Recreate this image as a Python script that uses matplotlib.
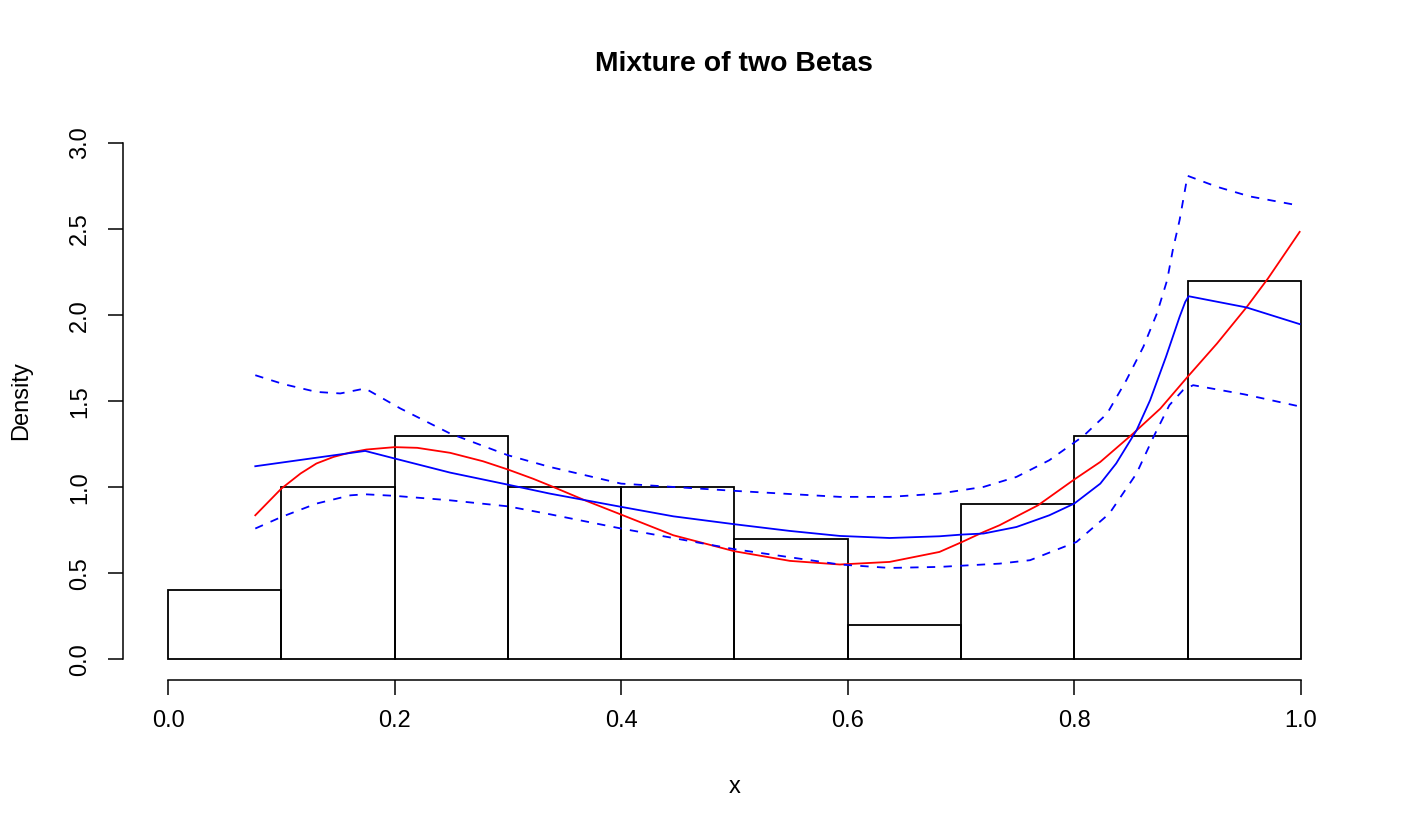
import matplotlib
matplotlib.use("Agg")
import matplotlib.pyplot as plt

plt.rcParams["font.family"] = ["Liberation Sans", "DejaVu Sans"]
plt.rcParams["lines.scale_dashes"] = False

# histogram (density) of the sample
bin_edges = [0.0, 0.1, 0.2, 0.3, 0.4, 0.5, 0.6, 0.7, 0.8, 0.9]
bin_density = [0.4, 1.0, 1.3, 1.0, 1.0, 0.7, 0.2, 0.9, 1.3, 2.2]
bin_width = 0.1

# true mixture density (red)
true_x = [0.077, 0.100, 0.117, 0.131, 0.146, 0.161, 0.175, 0.200, 0.220, 0.249,
          0.278, 0.300, 0.322, 0.337, 0.368, 0.400, 0.446, 0.500, 0.549, 0.593,
          0.637, 0.681, 0.701, 0.720, 0.734, 0.768, 0.800, 0.823, 0.852, 0.876,
          0.900, 0.926, 0.952, 0.971, 0.999]
true_y = [0.837, 0.992, 1.080, 1.138, 1.176, 1.202, 1.219, 1.233, 1.229, 1.200,
          1.151, 1.103, 1.050, 1.010, 0.924, 0.841, 0.721, 0.628, 0.572, 0.551,
          0.566, 0.624, 0.682, 0.740, 0.779, 0.895, 1.045, 1.147, 1.312, 1.457,
          1.641, 1.835, 2.045, 2.213, 2.484]

# fitted density (blue)
fit_x = [0.077, 0.174, 0.200, 0.249, 0.300, 0.337, 0.400, 0.446, 0.500, 0.549,
         0.593, 0.637, 0.681, 0.701, 0.720, 0.749, 0.778, 0.800, 0.823, 0.837,
         0.855, 0.867, 0.881, 0.893, 0.898, 0.901, 0.952, 0.999]
fit_y = [1.122, 1.211, 1.167, 1.085, 1.015, 0.963, 0.886, 0.831, 0.785, 0.746,
         0.717, 0.705, 0.715, 0.725, 0.731, 0.769, 0.837, 0.905, 1.021, 1.138,
         1.331, 1.506, 1.758, 1.990, 2.077, 2.110, 2.045, 1.948]

# upper band (blue dashed)
upper_x = [0.077, 0.102, 0.131, 0.152, 0.174, 0.205, 0.249, 0.300, 0.337, 0.400,
           0.500, 0.593, 0.637, 0.681, 0.720, 0.749, 0.778, 0.808, 0.829, 0.846,
           0.861, 0.873, 0.882, 0.887, 0.893, 0.900, 0.926, 0.955, 0.996]
upper_y = [1.651, 1.599, 1.554, 1.545, 1.574, 1.458, 1.312, 1.186, 1.118, 1.021,
           0.979, 0.944, 0.944, 0.963, 1.002, 1.060, 1.157, 1.297, 1.428, 1.622,
           1.816, 2.010, 2.203, 2.378, 2.552, 2.810, 2.746, 2.690, 2.640]

# lower band (blue dashed)
lower_x = [0.077, 0.100, 0.131, 0.161, 0.174, 0.200, 0.249, 0.300, 0.337, 0.400,
           0.500, 0.593, 0.637, 0.681, 0.734, 0.761, 0.802, 0.831, 0.855, 0.870,
           0.884, 0.896, 0.905, 0.950, 0.998]
lower_y = [0.760, 0.827, 0.905, 0.953, 0.959, 0.950, 0.924, 0.889, 0.843, 0.760,
           0.640, 0.551, 0.531, 0.537, 0.556, 0.576, 0.682, 0.847, 1.080, 1.293,
           1.477, 1.564, 1.593, 1.540, 1.471]

fig = plt.figure(figsize=(14.11, 8.34), dpi=100)
ax = fig.add_axes([0.087, 0.1847, 0.867, 0.6685])

ax.bar(bin_edges, bin_density, width=bin_width, align="edge",
       facecolor="none", edgecolor="black", linewidth=1.3)
ax.plot(true_x, true_y, color="#FF0000", linewidth=1.3)
ax.plot(fit_x, fit_y, color="#0000FF", linewidth=1.3)
ax.plot(upper_x, upper_y, color="#0000FF", linewidth=1.3, dashes=(6, 6))
ax.plot(lower_x, lower_y, color="#0000FF", linewidth=1.3, dashes=(6, 6))

ax.set_xlim(-0.04, 1.04)
ax.set_ylim(-0.12, 3.12)
ax.spines["top"].set_visible(False)
ax.spines["right"].set_visible(False)
ax.spines["left"].set_bounds(0, 3)
ax.spines["bottom"].set_bounds(0, 1)
for s in ["left", "bottom"]:
    ax.spines[s].set_linewidth(1.1)

ax.set_xticks([0.0, 0.2, 0.4, 0.6, 0.8, 1.0])
ax.set_xticklabels(["0.0", "0.2", "0.4", "0.6", "0.8", "1.0"])
ax.set_yticks([0.0, 0.5, 1.0, 1.5, 2.0, 2.5, 3.0])
ax.set_yticklabels(["0.0", "0.5", "1.0", "1.5", "2.0", "2.5", "3.0"])
ax.tick_params(axis="x", length=10.8, width=1.1, pad=11, labelsize=17)
ax.tick_params(axis="y", length=10.8, width=1.1, pad=12, labelsize=17,
               labelrotation=90)
for lab in ax.get_yticklabels():
    lab.set_verticalalignment("center")

fig.text(0.5205, 1 - 71 / 834, "Mixture of two Betas", ha="center",
         va="baseline", fontsize=20.4, fontweight="bold")
fig.text(0.5205, 1 - 793 / 834, "x", ha="center", va="baseline", fontsize=17)
fig.text(21 / 1411, 1 - 401 / 834, "Density", ha="center", va="center",
         rotation=90, fontsize=17)

plt.savefig("out.png", dpi=100)
